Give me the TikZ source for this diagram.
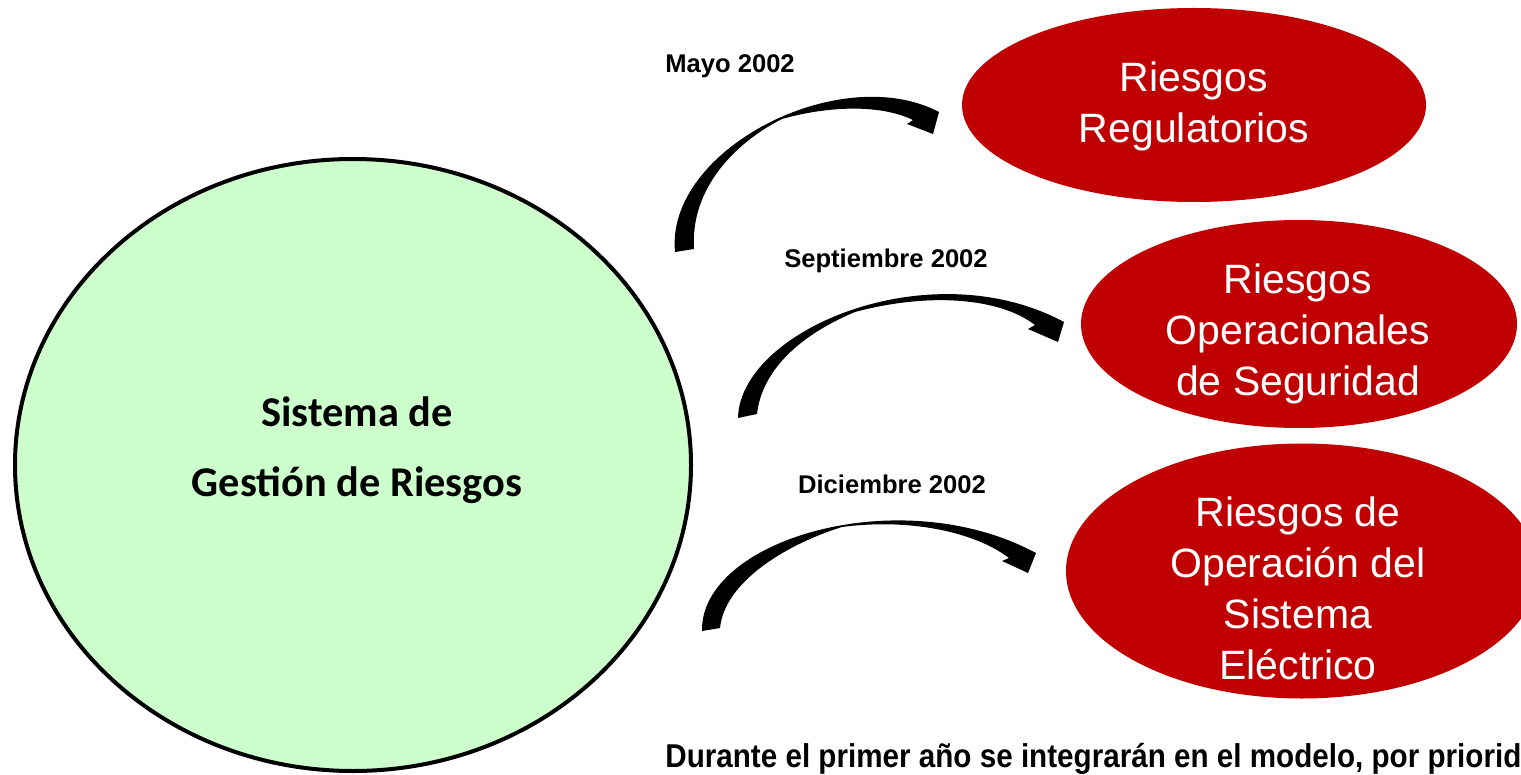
\documentclass[tikz,border=0pt]{standalone}
\usepackage{fontspec}
\usepackage{graphicx}
\usetikzlibrary{shapes.geometric}
\newfontfamily\carlito{Carlito}
\newfontfamily\lsans{Liberation Sans}
\definecolor{riskred}{HTML}{C00000}
\definecolor{lightgreen}{HTML}{CCFFCC}
\begin{document}
\begin{tikzpicture}[x=0.5pt,y=-0.5pt,
  redell/.style={ellipse, fill=riskred, draw=none, inner sep=0pt},
  redtxt/.style={text=white, font=\lsans\fontsize{20.5}{25.5}\selectfont, align=center, anchor=north, inner sep=0pt},
  datetxt/.style={font=\lsans\bfseries\fontsize{12.8}{15}\selectfont, anchor=base, inner sep=0pt},
  bigarrow/.style={fill=black, draw=none}]
\useasboundingbox (0,0) rectangle (1521,775);

% main circle
\node[ellipse, draw=black, line width=2pt, fill=lightgreen, minimum width=338pt, minimum height=306pt, inner sep=0pt] (sgr) at (353,465) {};
\node[font=\carlito\bfseries\fontsize{21.2}{35}\selectfont, align=center, anchor=north, inner sep=0pt] (sgrtxt) at (357,396) {Sistema de\\Gestión de Riesgos};

% red ellipses
\node[redell, minimum width=232pt, minimum height=97pt] (rr) at (1194,105) {};
\node[redtxt] (rrtxt) at (1194,61) {Riesgos\\Regulatorios};
\node[redell, minimum width=218pt, minimum height=104pt] (ros) at (1299,324) {};
\node[redtxt] (rostxt) at (1298,263) {Riesgos\\Operacionales\\de Seguridad};
\node[redell, minimum width=236pt, minimum height=127.5pt] (rose) at (1302,571) {};
\node[redtxt] (rosetxt) at (1298,496) {Riesgos de\\Operación del\\Sistema\\Eléctrico};

% dates
\node[datetxt] (d1) at (730,73) {Mayo 2002};
\node[datetxt] (d2) at (886,268) {Septiembre 2002};
\node[datetxt] (d3) at (892,493) {Diciembre 2002};

% curved arrows
\fill[bigarrow] (675,252) .. controls (665,150) and (840,60) .. (939,112)
  -- (933,134) -- (907,124) -- (913,120)
  .. controls (880,104) and (828,106) .. (782,119)
  .. controls (740,140) and (690,185) .. (694,249) -- cycle;
\fill[bigarrow] (738,418) .. controls (740,330) and (930,250) .. (1064,322)
  -- (1058,342) -- (1028,329) -- (1035,325)
  .. controls (1000,298) and (930,292) .. (855,312)
  .. controls (800,335) and (762,370) .. (757,414) -- cycle;
\fill[bigarrow] (702,631) .. controls (700,540) and (900,480) .. (1036,553)
  -- (1028,573) -- (1002,561) -- (1009,558)
  .. controls (975,532) and (910,518) .. (842,527)
  .. controls (790,543) and (725,580) .. (720,628) -- cycle;

% bottom note
\node[font=\lsans\bfseries\fontsize{16.5}{20}\selectfont, anchor=base west, inner sep=0pt] (note) at (665,767) {\resizebox{428pt}{\height}{Durante el primer año se integrarán en el modelo, por priorid}};
\end{tikzpicture}
\end{document}
